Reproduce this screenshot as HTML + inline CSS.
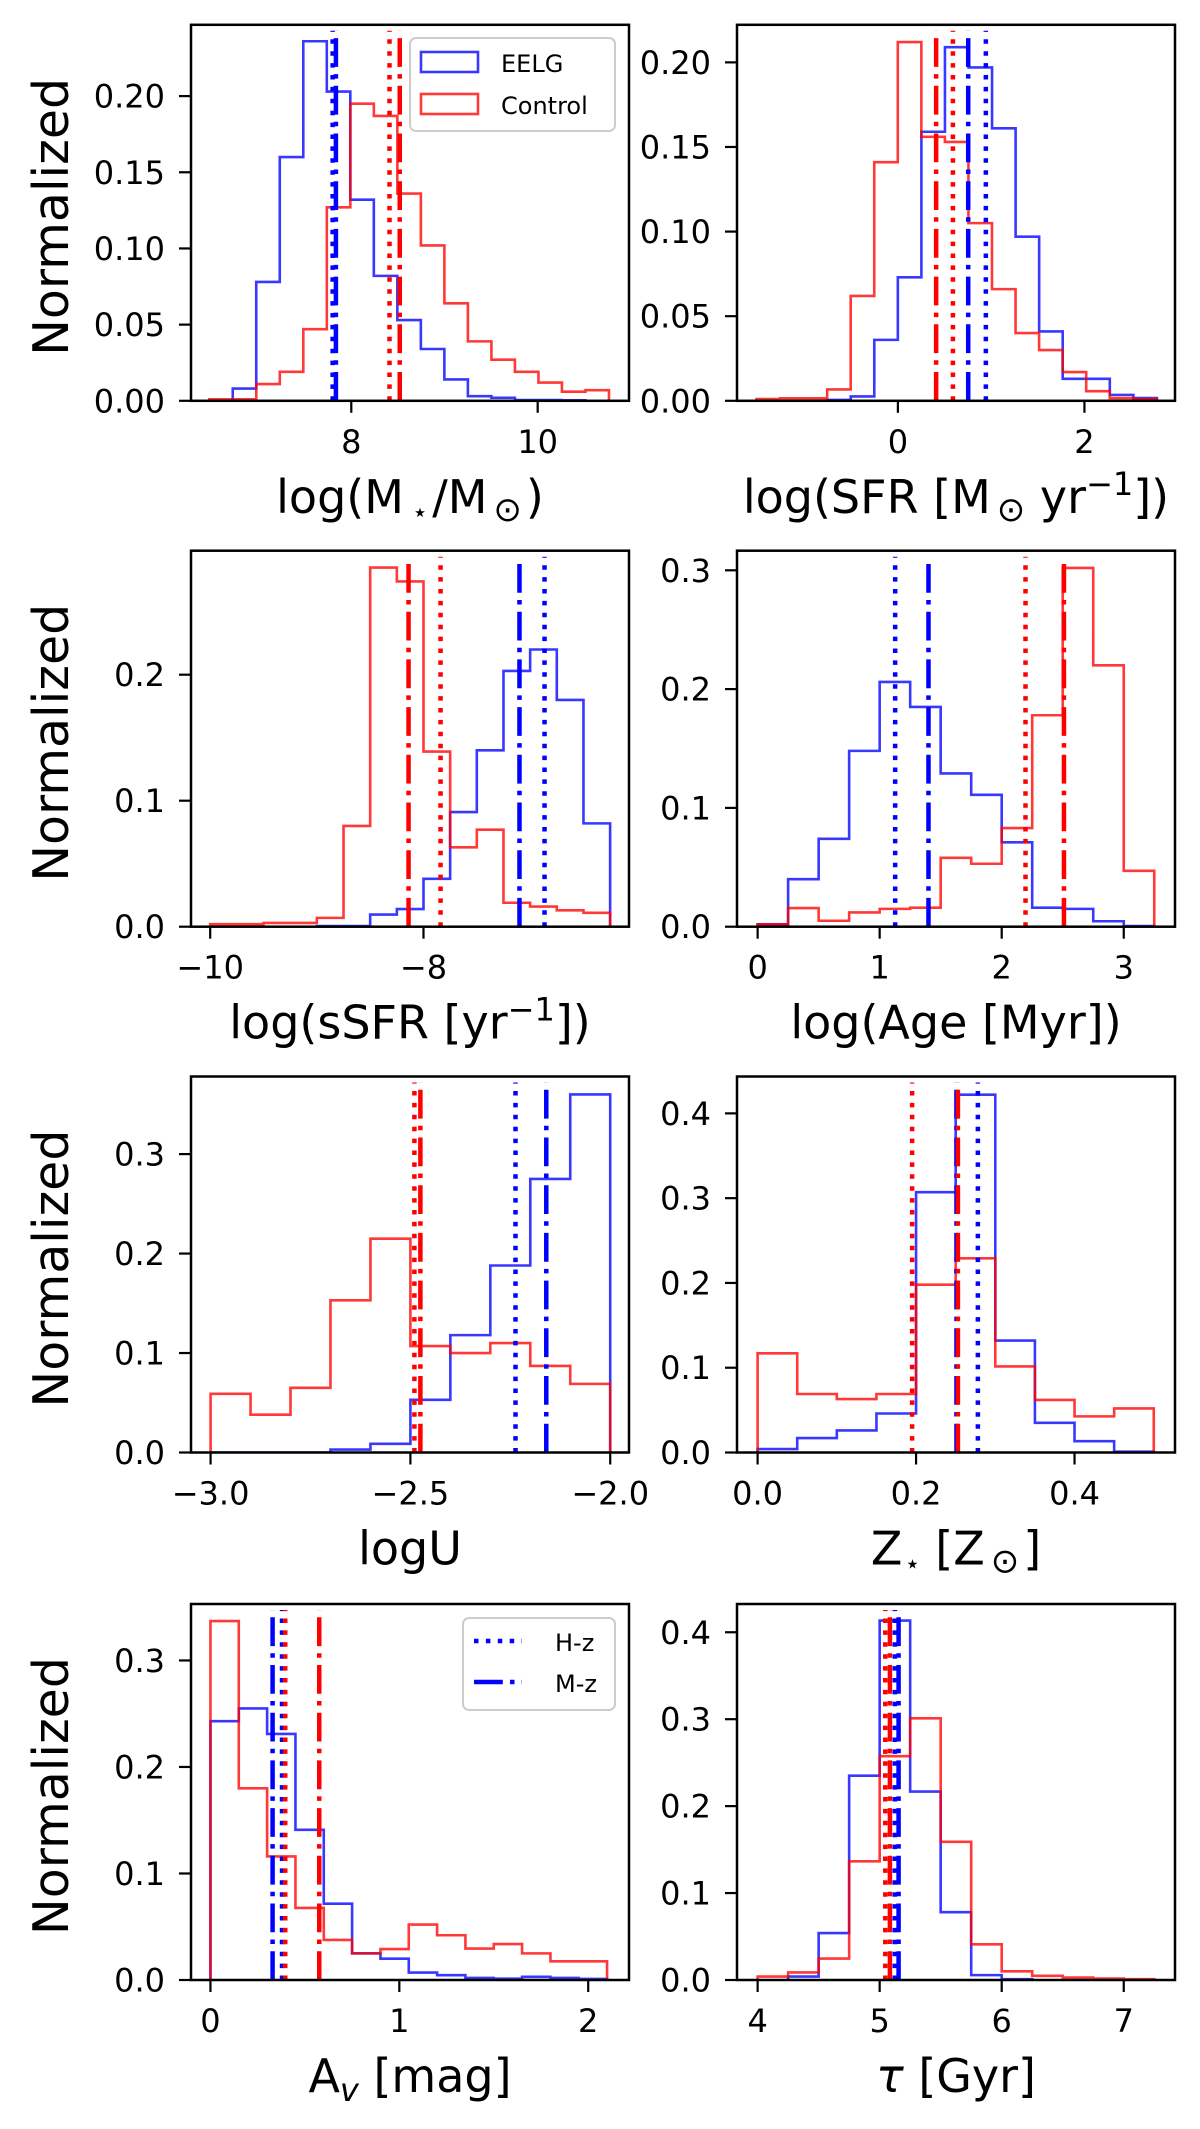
<!DOCTYPE html>
<html>
<head>
<meta charset="utf-8">
<style>
  html, body { margin: 0; padding: 0; background: #ffffff; }
  svg { display: block; font-family: "DejaVu Sans", "Liberation Sans", sans-serif; }
</style>
</head>
<body>
<svg id="fig" xmlns="http://www.w3.org/2000/svg" width="1200" height="2129" viewBox="0 0 1200 2129">
  <rect x="0" y="0" width="1200" height="2129" fill="#ffffff"/>
</svg>
<script>
// ---------- DATA ----------
// Panel 1: stellar mass
const massEelg = [0.008,0.078,0.160,0.236,0.203,0.132,0.082,0.053,0.034,0.014,0.003,0.002,0.0005,0.0005,0.0003];
const massControl = [0.001,0.001,0.011,0.019,0.047,0.127,0.195,0.187,0.136,0.102,0.064,0.039,0.027,0.019,0.012,0.006,0.007];
const massEelgStart = 6.728, massControlStart = 6.476, massBinWidth = 0.2523;
const massMedians = [7.80, 7.835, 8.41, 8.52]; // blue H-z, blue M-z, red H-z, red M-z
const massXTicks = [8, 10];
const massYTicks = [0, 0.05, 0.10, 0.15, 0.20];
const massYTickLabels = ["0.00","0.05","0.10","0.15","0.20"];

// Panel 2: SFR
const sfrEelg = [0.0005,0.0026,0.036,0.073,0.159,0.209,0.197,0.161,0.097,0.041,0.013,0.013,0.0035,0.0016];
const sfrControl = [0.001,0.0015,0.0015,0.0067,0.062,0.141,0.212,0.156,0.153,0.105,0.066,0.040,0.030,0.017,0.0057,0.0016,0.001];
const sfrEelgStart = -0.758, sfrControlStart = -1.516, sfrBinWidth = 0.2525;
const sfrMedians = [0.943, 0.754, 0.59, 0.41];
const sfrXTicks = [0, 2];
const sfrYTicks = [0, 0.05, 0.10, 0.15, 0.20];
const sfrYTickLabels = ["0.00","0.05","0.10","0.15","0.20"];

// Panel 3: sSFR
const ssfrEelg = [0.0005,0.0005,0.0096,0.014,0.038,0.091,0.14,0.203,0.220,0.180,0.082];
const ssfrControl = [0.002,0.002,0.003,0.003,0.007,0.080,0.285,0.274,0.139,0.063,0.077,0.019,0.016,0.013,0.011];
const ssfrEelgStart = -9.0, ssfrControlStart = -10.0, ssfrBinWidth = 0.25;
const ssfrMedians = [-6.865, -7.10, -7.84, -8.14];
const ssfrXTicks = [-10, -8];
const ssfrXTickLabels = ["\u221210","\u22128"];
const ssfrYTicks = [0, 0.1, 0.2];
const ssfrYTickLabels = ["0.0","0.1","0.2"];

// Panel 4: Age
const ageEelg = [0.002,0.040,0.074,0.148,0.206,0.185,0.129,0.111,0.071,0.016,0.015,0.0046,0.0006];
const ageControl = [0.002,0.0157,0.005,0.012,0.015,0.016,0.058,0.053,0.083,0.178,0.302,0.220,0.047];
const ageEelgStart = 0, ageControlStart = 0, ageBinWidth = 0.25;
const ageMedians = [1.127, 1.40, 2.195, 2.51];
const ageXTicks = [0, 1, 2, 3];
const ageYTicks = [0, 0.1, 0.2, 0.3];
const ageYTickLabels = ["0.0","0.1","0.2","0.3"];

// Panel 5: logU
const logUEelg = [0,0,0,0.003,0.0087,0.053,0.118,0.188,0.275,0.360];
const logUControl = [0.059,0.038,0.065,0.153,0.215,0.107,0.100,0.110,0.087,0.069];
const logUEelgStart = -3.0, logUControlStart = -3.0, logUBinWidth = 0.1;
const logUMedians = [-2.237, -2.16, -2.49, -2.475];
const logUXTicks = [-3.0, -2.5, -2.0];
const logUXTickLabels = ["\u22123.0","\u22122.5","\u22122.0"];
const logUYTicks = [0, 0.1, 0.2, 0.3];
const logUYTickLabels = ["0.0","0.1","0.2","0.3"];

// Panel 6: metallicity
const zEelg = [0.004,0.017,0.026,0.046,0.307,0.422,0.132,0.035,0.0134,0.001];
const zControl = [0.117,0.069,0.063,0.069,0.198,0.229,0.1015,0.062,0.0426,0.052];
const zEelgStart = 0, zControlStart = 0, zBinWidth = 0.05;
const zMedians = [0.278, 0.251, 0.195, 0.2528];
const zXTicks = [0, 0.2, 0.4];
const zXTickLabels = ["0.0","0.2","0.4"];
const zYTicks = [0, 0.1, 0.2, 0.3, 0.4];
const zYTickLabels = ["0.0","0.1","0.2","0.3","0.4"];

// Panel 7: Av
const avEelg = [0.243,0.255,0.231,0.141,0.0716,0.025,0.020,0.007,0.0045,0.002,0.0013,0.003,0.002,0.001];
const avControl = [0.337,0.180,0.116,0.0677,0.0376,0.025,0.029,0.052,0.042,0.0295,0.0337,0.025,0.0175,0.0175];
const avEelgStart = 0, avControlStart = 0, avBinWidth = 0.15;
const avMedians = [0.379, 0.329, 0.396, 0.576];
const avXTicks = [0, 1, 2];
const avYTicks = [0, 0.1, 0.2, 0.3];
const avYTickLabels = ["0.0","0.1","0.2","0.3"];

// Panel 8: tau
const tauEelg = [0.004,0.054,0.235,0.4135,0.2167,0.078,0.0056,0.001];
const tauControl = [0.004,0.0087,0.0246,0.1365,0.2575,0.301,0.159,0.041,0.010,0.0048,0.0028,0.0016,0.001];
const tauEelgStart = 4.25, tauControlStart = 4.0, tauBinWidth = 0.25;
const tauMedians = [5.124, 5.155, 5.046, 5.084];
const tauXTicks = [4, 5, 6, 7];
const tauYTicks = [0, 0.1, 0.2, 0.3, 0.4];
const tauYTickLabels = ["0.0","0.1","0.2","0.3","0.4"];

// ---------- LAYOUT ----------
const NS = "http://www.w3.org/2000/svg";
const svg = document.getElementById("fig");
const colX = [191, 737];
const rowY = [24.8, 550.7, 1076.5, 1604];
const PW = 438, PH = 376;
const BLUE = "#0000ff", RED = "#ff0000";

const panels = [
  {key:"mass", col:0,row:0, xlim:[6.28,10.98], ylim:0.2468, eelg:massEelg, ctrl:massControl, es:massEelgStart, cs:massControlStart, bw:massBinWidth, med:massMedians, xt:massXTicks, xtl:massXTicks.map(String), yt:massYTicks, ytl:massYTickLabels,
   xlabel:'log(M<tspan font-size="26" dx="8" dy="8">\u22C6</tspan><tspan dx="4" dy="-8">/M</tspan><tspan font-size="34" dx="6" dy="8">\u2299</tspan><tspan dx="4" dy="-8">)</tspan>', ylabel:true},
  {key:"sfr", col:1,row:0, xlim:[-1.725,2.971], ylim:0.2222, eelg:sfrEelg, ctrl:sfrControl, es:sfrEelgStart, cs:sfrControlStart, bw:sfrBinWidth, med:sfrMedians, xt:sfrXTicks, xtl:sfrXTicks.map(String), yt:sfrYTicks, ytl:sfrYTickLabels,
   xlabel:'log(SFR [M<tspan font-size="34" dx="6" dy="8">\u2299</tspan><tspan dy="-8"> yr</tspan><tspan font-size="32" dy="-18">\u22121</tspan><tspan dy="18">])</tspan>', ylabel:false},
  {key:"ssfr", col:0,row:1, xlim:[-10.18,-6.073], ylim:0.2984, eelg:ssfrEelg, ctrl:ssfrControl, es:ssfrEelgStart, cs:ssfrControlStart, bw:ssfrBinWidth, med:ssfrMedians, xt:ssfrXTicks, xtl:ssfrXTickLabels, yt:ssfrYTicks, ytl:ssfrYTickLabels,
   xlabel:'log(sSFR [yr<tspan font-size="32" dy="-18">\u22121</tspan><tspan dy="18">])</tspan>', ylabel:true},
  {key:"age", col:1,row:1, xlim:[-0.169,3.42], ylim:0.3165, eelg:ageEelg, ctrl:ageControl, es:ageEelgStart, cs:ageControlStart, bw:ageBinWidth, med:ageMedians, xt:ageXTicks, xtl:ageXTicks.map(String), yt:ageYTicks, ytl:ageYTickLabels,
   xlabel:'log(Age [Myr])', ylabel:false},
  {key:"logu", col:0,row:2, xlim:[-3.049,-1.953], ylim:0.378, eelg:logUEelg, ctrl:logUControl, es:logUEelgStart, cs:logUControlStart, bw:logUBinWidth, med:logUMedians, xt:logUXTicks, xtl:logUXTickLabels, yt:logUYTicks, ytl:logUYTickLabels,
   xlabel:'logU', ylabel:true},
  {key:"metal", col:1,row:2, xlim:[-0.026,0.5268], ylim:0.4435, eelg:zEelg, ctrl:zControl, es:zEelgStart, cs:zControlStart, bw:zBinWidth, med:zMedians, xt:zXTicks, xtl:zXTickLabels, yt:zYTicks, ytl:zYTickLabels,
   xlabel:'Z<tspan font-size="26" dx="2" dy="8">\u22C6</tspan><tspan dy="-8"> [Z</tspan><tspan font-size="34" dx="6" dy="8">\u2299</tspan><tspan dx="4" dy="-8">]</tspan>', ylabel:false},
  {key:"av", col:0,row:3, xlim:[-0.103,2.216], ylim:0.353, eelg:avEelg, ctrl:avControl, es:avEelgStart, cs:avControlStart, bw:avBinWidth, med:avMedians, xt:avXTicks, xtl:avXTicks.map(String), yt:avYTicks, ytl:avYTickLabels,
   xlabel:'A<tspan font-size="32" font-style="italic" dy="9">v</tspan><tspan dy="-9"> [mag]</tspan>', ylabel:true},
  {key:"tau", col:1,row:3, xlim:[3.831,7.42], ylim:0.4325, eelg:tauEelg, ctrl:tauControl, es:tauEelgStart, cs:tauControlStart, bw:tauBinWidth, med:tauMedians, xt:tauXTicks, xtl:tauXTicks.map(String), yt:tauYTicks, ytl:tauYTickLabels,
   xlabel:'<tspan font-style="italic">\u03C4</tspan> [Gyr]', ylabel:false}
];

function mk(tag, attrs, parent) {
  const e = document.createElementNS(NS, tag);
  for (const k in attrs) e.setAttribute(k, attrs[k]);
  parent.appendChild(e);
  return e;
}

const DOT = "4.5,7.4", DASHDOT = "28.8,7.2,4.5,7.2";

function stepPath(start, bw, vals, sx, sy) {
  let d = "M" + sx(start).toFixed(2) + "," + sy(0).toFixed(2);
  vals.forEach((v, i) => {
    const x0 = sx(start + i * bw), x1 = sx(start + (i + 1) * bw);
    d += " L" + x0.toFixed(2) + "," + sy(v).toFixed(2) + " L" + x1.toFixed(2) + "," + sy(v).toFixed(2);
  });
  d += " L" + sx(start + vals.length * bw).toFixed(2) + "," + sy(0).toFixed(2);
  return d;
}

panels.forEach((p, idx) => {
  const X = colX[p.col], Y = rowY[p.row];
  const sx = v => X + (v - p.xlim[0]) / (p.xlim[1] - p.xlim[0]) * PW;
  const sy = v => Y + PH - v / p.ylim * PH;
  const g = mk("g", {}, svg);
  
  

  const clipId = "clip" + idx;
  const cp = mk("clipPath", {id: clipId}, g);
  mk("rect", {x: X, y: Y, width: PW, height: PH}, cp);
  const plot = mk("g", {"clip-path": "url(#" + clipId + ")"}, g);
  
  

  const hb = mk("path", {d: stepPath(p.es, p.bw, p.eelg, sx, sy), fill: "none", stroke: BLUE, "stroke-opacity": 0.78, "stroke-width": 2.6, "stroke-linejoin": "miter"}, plot);
  
  
  const hr = mk("path", {d: stepPath(p.cs, p.bw, p.ctrl, sx, sy), fill: "none", stroke: RED, "stroke-opacity": 0.78, "stroke-width": 2.6, "stroke-linejoin": "miter"}, plot);
  
  

  const styles = [[BLUE, DOT, "eelg-hz-median"], [BLUE, DASHDOT, "eelg-mz-median"], [RED, DOT, "control-hz-median"], [RED, DASHDOT, "control-mz-median"]];
  p.med.forEach((m, i) => {
    const ln = mk("line", {x1: sx(m), x2: sx(m), y1: Y + PH, y2: Y + 6, stroke: styles[i][0], "stroke-width": 4.5, "stroke-dasharray": styles[i][1]}, plot);
    
    
  });

  const frame = mk("rect", {x: X, y: Y, width: PW, height: PH, fill: "none", stroke: "#000", "stroke-width": 2.5}, g);
  
  

  p.xt.forEach((t, i) => {
    const x = sx(t);
    const tk = mk("line", {x1: x, x2: x, y1: Y + PH, y2: Y + PH + 12, stroke: "#000", "stroke-width": 2.2}, g);
    
    
    const tl = mk("text", {x: x, y: Y + PH + 52, "text-anchor": "middle", "font-size": 32, fill: "#000"}, g);
    tl.textContent = p.xtl[i];
    
    
  });
  p.yt.forEach((t, i) => {
    const y = sy(t);
    const tk = mk("line", {x1: X - 12, x2: X, y1: y, y2: y, stroke: "#000", "stroke-width": 2.2}, g);
    
    
    const tl = mk("text", {x: X - 26, y: y + 11.5, "text-anchor": "end", "font-size": 32, fill: "#000"}, g);
    tl.textContent = p.ytl[i];
    
    
  });

  const xl = mk("text", {x: X + PW / 2, y: Y + PH + 112, "text-anchor": "middle", "font-size": 46, fill: "#000"}, g);
  xl.innerHTML = p.xlabel;
  
  

  if (p.ylabel) {
    const cy = Y + PH / 2 + 4;
    const yl = mk("text", {x: 68, y: cy, "text-anchor": "middle", "font-size": 49, fill: "#000", transform: "rotate(-90 68 " + cy + ")"}, g);
    yl.textContent = "Normalized";
    
    
  }
});

// ---------- LEGENDS ----------
const lg1 = mk("g", {}, svg);


mk("rect", {x: 410, y: 38, width: 205, height: 93, rx: 6, fill: "#ffffff", "fill-opacity": 0.8, stroke: "#cccccc", "stroke-width": 2}, lg1);
const le1 = mk("rect", {x: 421, y: 52, width: 57, height: 20, fill: "none", stroke: BLUE, "stroke-opacity": 0.78, "stroke-width": 2.6}, lg1);


const lt1 = mk("text", {x: 501, y: 72, "font-size": 24, fill: "#000"}, lg1);
lt1.textContent = "EELG";


const le2 = mk("rect", {x: 421, y: 94, width: 57, height: 20, fill: "none", stroke: RED, "stroke-opacity": 0.78, "stroke-width": 2.6}, lg1);


const lt2 = mk("text", {x: 501, y: 114, "font-size": 24, fill: "#000"}, lg1);
lt2.textContent = "Control";



const lg2 = mk("g", {}, svg);


mk("rect", {x: 463, y: 1618, width: 152, height: 92, rx: 6, fill: "#ffffff", "fill-opacity": 0.8, stroke: "#cccccc", "stroke-width": 2}, lg2);
const le3 = mk("line", {x1: 474, x2: 522, y1: 1641, y2: 1641, stroke: BLUE, "stroke-width": 4.5, "stroke-dasharray": DOT}, lg2);


const lt3 = mk("text", {x: 555, y: 1651, "font-size": 24, fill: "#000"}, lg2);
lt3.textContent = "H-z";


const le4 = mk("line", {x1: 474, x2: 522, y1: 1682, y2: 1682, stroke: BLUE, "stroke-width": 4.5, "stroke-dasharray": DASHDOT}, lg2);


const lt4 = mk("text", {x: 555, y: 1692, "font-size": 24, fill: "#000"}, lg2);
lt4.textContent = "M-z";


</script>
</body>
</html>
